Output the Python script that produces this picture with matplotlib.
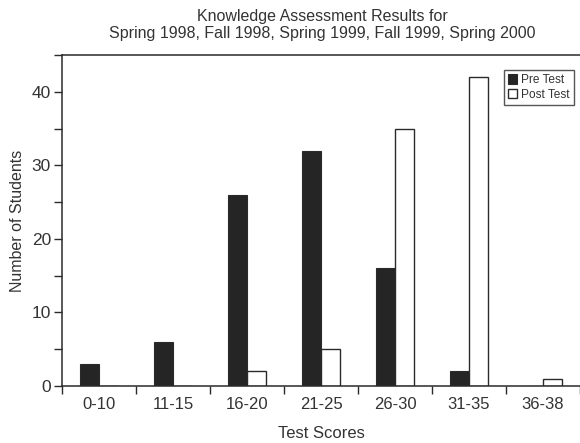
import numpy as np
import matplotlib.pyplot as plt
from matplotlib.ticker import MultipleLocator

plt.rcParams['font.family'] = ['Liberation Sans', 'DejaVu Sans']

# score ranges and student counts
score_ranges = ['0-10', '11-15', '16-20', '21-25', '26-30', '31-35', '36-38']
pre_test = [3, 6, 26, 32, 16, 2, 0]
post_test = [0, 0, 2, 5, 35, 42, 1]

text_color = '#333333'
edge_color = '#2a2a2a'

fig = plt.figure(figsize=(5.8, 4.43), dpi=100)
ax = fig.add_axes([0.107, 0.1287, 0.893, 0.747])

x = np.arange(len(score_ranges))
w = 0.26

ax.bar(x - w / 2, pre_test, w, color='#252525', edgecolor=edge_color,
       linewidth=0.8, label='Pre Test')
ax.bar(x + w / 2, post_test, w, color='white', edgecolor=edge_color,
       linewidth=1.0, label='Post Test')

ax.set_xlim(-0.5, len(score_ranges) - 0.5)
ax.set_ylim(0, 45)

# category labels centred, ticks on the boundaries
ax.set_xticks(x)
ax.set_xticklabels(score_ranges, fontsize=12, color=text_color)
ax.set_xticks(np.arange(-0.5, len(score_ranges)), minor=True)
ax.tick_params(axis='x', which='major', length=0, pad=8)
ax.tick_params(axis='x', which='minor', length=6, width=1, color=edge_color)

ax.set_yticks([0, 10, 20, 30, 40])
ax.yaxis.set_minor_locator(MultipleLocator(5))
ax.tick_params(axis='y', which='both', length=6, width=1, color=edge_color,
               labelsize=12.5, labelcolor=text_color, pad=2)

for side in ['left', 'bottom', 'top']:
    ax.spines[side].set_color(edge_color)
    ax.spines[side].set_linewidth(1.1)
ax.spines['right'].set_visible(False)

ax.set_xlabel('Test Scores', fontsize=12, color=text_color, labelpad=10)
ax.set_ylabel('Number of Students', fontsize=11.5, color=text_color, labelpad=5)

fig.text(0.555, 0.9436, 'Knowledge Assessment Results for\n'
         'Spring 1998, Fall 1998, Spring 1999, Fall 1999, Spring 2000',
         ha='center', va='center', fontsize=11.5, color=text_color,
         linespacing=1.2)

leg = ax.legend(loc='upper right', bbox_to_anchor=(0.988, 0.955), fontsize=8.6,
                frameon=True, fancybox=False, handlelength=0.8, handleheight=0.8,
                handletextpad=0.3, borderpad=0.35, labelspacing=0.2,
                borderaxespad=0)
leg.get_frame().set_edgecolor(edge_color)
leg.get_frame().set_linewidth(1.0)
for t in leg.get_texts():
    t.set_color(text_color)

fig.savefig('out.png', dpi=100)
